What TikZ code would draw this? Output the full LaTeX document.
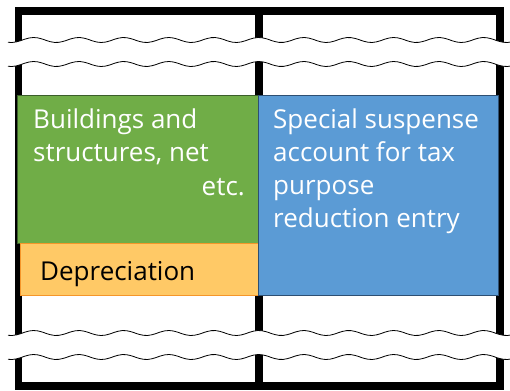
\documentclass[tikz,border=0pt]{standalone}
\usepackage{fontspec}
\setmainfont{Open Sans}
\usetikzlibrary{positioning}
\definecolor{bldggreen}{HTML}{70AD47}
\definecolor{bldgedge}{HTML}{3B5E2B}
\definecolor{suspblue}{HTML}{5B9BD5}
\definecolor{suspedge}{HTML}{2E4F72}
\definecolor{deprorange}{HTML}{FFC966}
\definecolor{depredge}{HTML}{F5962A}

\begin{document}
\begin{tikzpicture}[x=1pt,y=-1pt,
        box/.style={
             rectangle
            , anchor=north west
            , inner sep=0pt
            , line width=1pt
        },
        lbl/.style={
             align=left
            , inner sep=0pt
            , text=white
            , font=\fontsize{26}{33}\selectfont
        },
        tline/.style={line width=7.5pt},
        breakline/.style={line width=0.8pt}
        ]
        \useasboundingbox (0,0) rectangle (510,390);

        % T-account frame
        \draw[tline] (18.5,11) rectangle (500,386);
        \draw[tline] (259,11) -- (259,386);

        % breaks
        \foreach \ya/\yb in {40/64, 333/357} {
            \fill[white] plot[domain=8:512,samples=120,smooth] (\x,{\ya+2.5*sin(8*\x)})
                -- plot[domain=512:8,samples=120,smooth] (\x,{\yb+2.5*sin(8*\x)}) -- cycle;
            \draw[breakline] plot[domain=8:512,samples=120,smooth] (\x,{\ya+2.5*sin(8*\x)});
            \draw[breakline] plot[domain=8:512,samples=120,smooth] (\x,{\yb+2.5*sin(8*\x)});
        }

        \node[box, fill=bldggreen, draw=bldgedge, minimum width=241pt, minimum height=148pt] (bldg) at (17,95) {};
        \node[box, fill=deprorange, draw=depredge, minimum width=239pt, minimum height=52pt] (depr) at (20,243) {};
        \node[box, fill=suspblue, draw=suspedge, minimum width=240pt, minimum height=200pt] (susp) at (258,95) {};

        % base anchor sits on the last line
        \node[lbl, anchor=base west] (bldgtxt) at ([shift={(16,66)}]bldg.north west) {Buildings and\\structures, net};
        \node[lbl, anchor=base east] (etc) at ([shift={(-14,100)}]bldg.north east) {etc.};
        \node[lbl, anchor=base west] (susptxt) at ([shift={(15,132)}]susp.north west) {Special suspense\\account for tax\\purpose\\reduction entry};
        \node[lbl, text=black, anchor=base west] (deprtxt) at ([shift={(20,37)}]depr.north west) {Depreciation};

    \end{tikzpicture}
\end{document}
